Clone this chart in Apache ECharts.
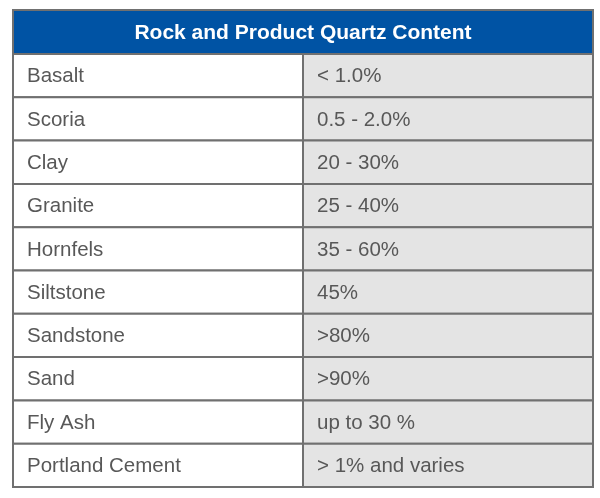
<!DOCTYPE html>
<html><head><meta charset="utf-8">
<script src="https://cdn.jsdelivr.net/npm/echarts@6/dist/echarts.min.js"></script>
<style>html,body{margin:0;padding:0;background:#fff}#c{width:600px;height:498px}</style>
</head><body><div id="c"></div>
<script>
const title = 'Rock and Product Quartz Content';
const materials = ['Basalt','Scoria','Clay','Granite','Hornfels','Siltstone','Sandstone','Sand','Fly Ash','Portland Cement'];
const quartzContent = ['< 1.0%','0.5 - 2.0%','20 - 30%','25 - 40%','35 - 60%','45%','>80%','>90%','up to 30 %','> 1% and varies'];

const chart = echarts.init(document.getElementById('c'), null, {renderer:'canvas'});
const FONT = '"Liberation Sans", Arial, sans-serif';
const BORDER = '#707070';
chart.setOption({
  animation:false,
  grid:{left:13,right:7,top:54,bottom:11},
  xAxis:{type:'value',min:0,max:1,show:false},
  yAxis:{type:'category',data:materials,inverse:true,show:false},
  graphic:[
    {type:'rect',shape:{x:13,y:10,width:580,height:44},style:{fill:'#0053a4',stroke:BORDER,lineWidth:2},z:10},
    {type:'text',x:303,y:33,style:{text:title,fill:'#fff',font:'bold 21px '+FONT,textAlign:'center',textVerticalAlign:'middle'},z:11}
  ],
  series:[{
    type:'custom',
    data:materials.map((m,i)=>[i,m,quartzContent[i]]),
    encode:{y:0},
    renderItem:function(params,api){
      const i = api.value(0);
      const c = api.coord([0,i]);
      const h = api.size([0,1])[1];
      const x0 = api.coord([0,i])[0];
      const xm = api.coord([0.5,i])[0];
      const x1 = api.coord([1,i])[0];
      const top = c[1]-h/2;
      return {type:'group',children:[
        {type:'rect',shape:{x:x0,y:top,width:xm-x0,height:h},style:{fill:'#ffffff',stroke:BORDER,lineWidth:2}},
        {type:'rect',shape:{x:xm,y:top,width:x1-xm,height:h},style:{fill:'#e4e4e4',stroke:BORDER,lineWidth:2}},
        {type:'text',x:x0+14,y:c[1]+1,style:{text:materials[i],fill:'#585858',font:'20.5px '+FONT,textVerticalAlign:'middle'}},
        {type:'text',x:xm+14,y:c[1]+1,style:{text:quartzContent[i],fill:'#585858',font:'20.5px '+FONT,textVerticalAlign:'middle'}}
      ]};
    }
  }]
});
</script></body></html>
